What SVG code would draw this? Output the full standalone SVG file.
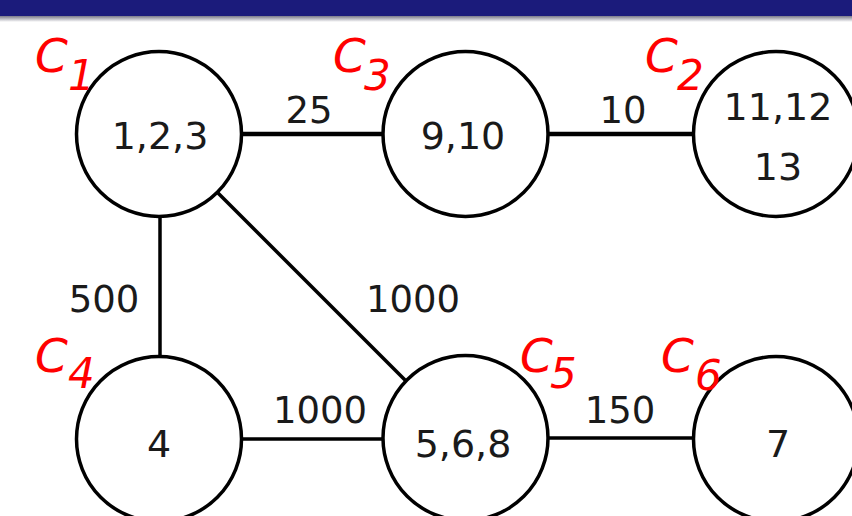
<svg xmlns="http://www.w3.org/2000/svg" width="852" height="516" viewBox="0 0 852 516">
<defs>
<linearGradient id="shadow" x1="0" y1="0" x2="0" y2="1">
<stop offset="0" stop-color="#7a7a8a"/>
<stop offset="1" stop-color="#ffffff"/>
</linearGradient>
</defs>
<style>
.node circle{fill:#fff;stroke:#000;stroke-width:3.5}
.nt{font-family:"DejaVu Sans",Verdana,sans-serif;font-size:38px;fill:#1a1a1a;text-anchor:middle}
.el{font-family:"DejaVu Sans",Verdana,sans-serif;font-size:37px;fill:#1a1a1a;text-anchor:middle}
.cl{font-family:"DejaVu Sans",Verdana,sans-serif;font-style:italic;fill:#ff0000}
.c{font-size:47px}
.s{font-size:42px}
#edges line{stroke:#000;stroke-width:3.5}
</style>
<rect x="0" y="0" width="852" height="16" fill="#1b1b7b"/>
<rect x="0" y="16" width="852" height="6" fill="url(#shadow)"/>
<g id="edges">
<line x1="242" y1="134" x2="383" y2="134" style="stroke-width:4.5"/>
<line x1="548" y1="134" x2="693" y2="134" style="stroke-width:4.5"/>
<line x1="160" y1="217" x2="160" y2="356"/>
<line x1="218" y1="193" x2="406" y2="381"/>
<line x1="242" y1="439" x2="383" y2="439"/>
<line x1="548" y1="438" x2="693" y2="438"/>
<text class="el" x="309" y="123">25</text>
<text class="el" x="623" y="123">10</text>
<text class="el" x="104" y="312">500</text>
<text class="el" x="413" y="312">1000</text>
<text class="el" x="320" y="423">1000</text>
<text class="el" x="620" y="423">150</text>
</g>
<g id="c1" class="node">
<circle cx="159" cy="134" r="82.5"/>
<text class="nt" x="160" y="149">1,2,3</text>
<text class="cl" x="35" y="72"><tspan class="c">C</tspan><tspan class="s" x="68" y="90">1</tspan></text>
</g>
<g id="c3" class="node">
<circle cx="465.5" cy="134" r="82.5"/>
<text class="nt" x="463" y="149">9,10</text>
<text class="cl" x="333" y="72"><tspan class="c">C</tspan><tspan class="s" x="364" y="90">3</tspan></text>
</g>
<g id="c2" class="node">
<circle cx="776" cy="134" r="82.5"/>
<text class="nt" x="778" y="120">11,12</text>
<text class="nt" x="778" y="180">13</text>
<text class="cl" x="645" y="72"><tspan class="c">C</tspan><tspan class="s" x="677" y="90">2</tspan></text>
</g>
<g id="c4" class="node">
<circle cx="159" cy="439" r="82.5"/>
<text class="nt" x="159" y="457">4</text>
<text class="cl" x="35" y="372"><tspan class="c">C</tspan><tspan class="s" x="68" y="388">4</tspan></text>
</g>
<g id="c5" class="node">
<circle cx="465.5" cy="438" r="82.5"/>
<text class="nt" x="463" y="457">5,6,8</text>
<text class="cl" x="520" y="372"><tspan class="c">C</tspan><tspan class="s" x="550" y="388">5</tspan></text>
</g>
<g id="c6" class="node">
<circle cx="776" cy="439" r="82.5"/>
<text class="nt" x="778" y="457">7</text>
<text class="cl" x="661" y="372"><tspan class="c">C</tspan><tspan class="s" x="695" y="390">6</tspan></text>
</g>
</svg>
